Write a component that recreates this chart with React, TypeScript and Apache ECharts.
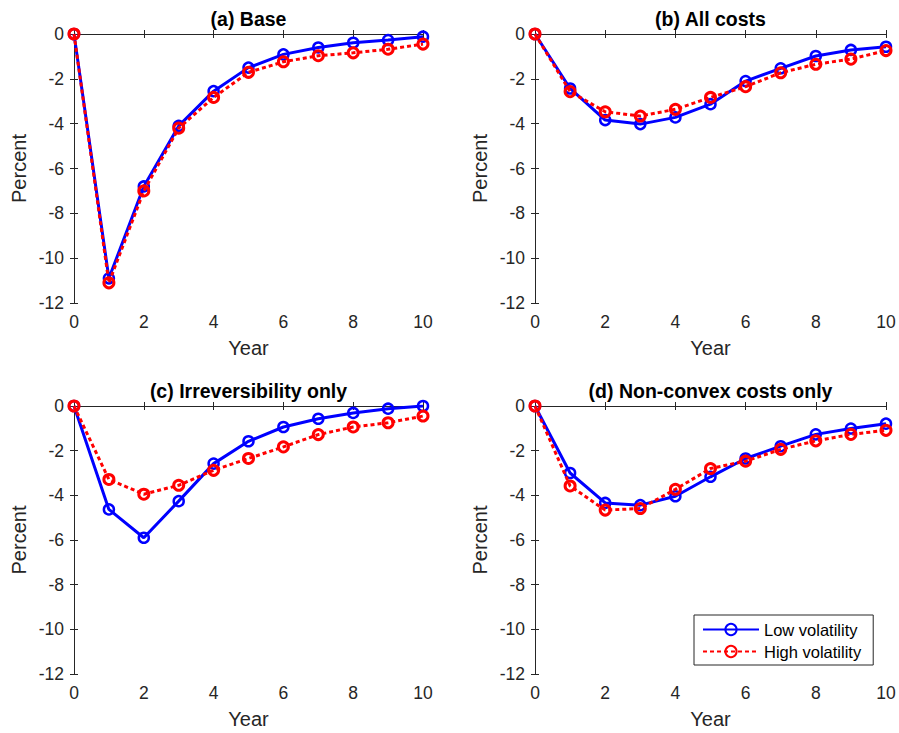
import React, { useEffect, useRef } from "react";
import * as echarts from "echarts";

// Investment response (percent) by year after the shock
const years = [0, 1, 2, 3, 4, 5, 6, 7, 8, 9, 10];

const baseLow = [0, -10.9, -6.8, -4.1, -2.55, -1.5, -0.91, -0.6, -0.39, -0.27, -0.12];
const baseHigh = [0, -11.1, -7.0, -4.2, -2.83, -1.71, -1.24, -0.97, -0.84, -0.68, -0.45];

const allLow = [0, -2.43, -3.84, -4.02, -3.72, -3.13, -2.1, -1.53, -0.98, -0.71, -0.57];
const allHigh = [0, -2.57, -3.47, -3.66, -3.36, -2.83, -2.35, -1.73, -1.35, -1.12, -0.74];

const irrevLow = [0, -4.63, -5.9, -4.26, -2.58, -1.58, -0.94, -0.57, -0.31, -0.12, 0];
const irrevHigh = [0, -3.29, -3.95, -3.55, -2.88, -2.35, -1.83, -1.28, -0.94, -0.75, -0.45];

const nonconvLow = [0, -3.0, -4.34, -4.44, -4.04, -3.17, -2.35, -1.8, -1.27, -1.01, -0.79];
const nonconvHigh = [0, -3.58, -4.66, -4.59, -3.73, -2.8, -2.47, -1.94, -1.56, -1.27, -1.09];

const panelTitles = [
  "(a) Base",
  "(b) All costs",
  "(c) Irreversibility only",
  "(d) Non-convex costs only",
];
const lowSeries = [baseLow, allLow, irrevLow, nonconvLow];
const highSeries = [baseHigh, allHigh, irrevHigh, nonconvHigh];

const seriesNames = ["Low volatility", "High volatility"];
const xLabel = "Year";
const yLabel = "Percent";

const grids = [
  { left: 74, top: 34, width: 349, height: 269 },
  { left: 535, top: 34, width: 351, height: 269 },
  { left: 74, top: 406, width: 349, height: 268 },
  { left: 535, top: 406, width: 351, height: 268 },
];

const FONT = "'Liberation Sans', Arial, Helvetica, sans-serif";
const AXIS_COLOR = "#262626";

export default function App() {
  const ref = useRef<HTMLDivElement>(null);

  useEffect(() => {
    if (!ref.current) return;
    const chart = echarts.init(ref.current, undefined, { renderer: "svg" });

    const xAxes: any[] = [];
    const yAxes: any[] = [];
    const series: any[] = [];
    const graphics: any[] = [];

    grids.forEach((g, i) => {
      const axisLine = { show: true, lineStyle: { color: AXIS_COLOR, width: 1 } };
      const tick = { show: true, inside: true, length: 4, lineStyle: { color: AXIS_COLOR } };
      // bottom and top x axes
      xAxes.push({
        type: "value",
        gridIndex: i,
        min: 0,
        max: 10,
        interval: 2,
        position: "bottom",
        axisLine,
        axisTick: tick,
        splitLine: { show: false },
        axisLabel: { color: AXIS_COLOR, fontSize: 17.5, fontFamily: FONT, margin: 10 },
        name: xLabel,
        nameLocation: "middle",
        nameGap: 35,
        nameTextStyle: { color: AXIS_COLOR, fontSize: 20, fontFamily: FONT },
      });
      xAxes.push({
        type: "value",
        gridIndex: i,
        min: 0,
        max: 10,
        interval: 2,
        position: "top",
        axisLine,
        axisTick: tick,
        splitLine: { show: false },
        axisLabel: { show: false },
      });
      // left and right y axes
      yAxes.push({
        type: "value",
        gridIndex: i,
        min: -12,
        max: 0,
        interval: 2,
        position: "left",
        axisLine,
        axisTick: tick,
        splitLine: { show: false },
        axisLabel: { color: AXIS_COLOR, fontSize: 17.5, fontFamily: FONT, margin: 10 },
        name: yLabel,
        nameLocation: "middle",
        nameGap: 45,
        nameTextStyle: { color: AXIS_COLOR, fontSize: 20, fontFamily: FONT },
      });
      yAxes.push({
        type: "value",
        gridIndex: i,
        min: -12,
        max: 0,
        interval: 2,
        position: "right",
        axisLine,
        axisTick: tick,
        splitLine: { show: false },
        axisLabel: { show: false },
      });

      series.push({
        name: seriesNames[0],
        type: "line",
        xAxisIndex: i * 2,
        yAxisIndex: i * 2,
        data: years.map((yr, k) => [yr, lowSeries[i][k]]),
        symbol: "circle",
        symbolSize: 10,
        lineStyle: { color: "#0000ff", width: 3 },
        itemStyle: { color: "rgba(0,0,0,0)", borderColor: "#0000ff", borderWidth: 2.5 },
        z: 2,
      });
      series.push({
        name: seriesNames[1],
        type: "line",
        xAxisIndex: i * 2,
        yAxisIndex: i * 2,
        data: years.map((yr, k) => [yr, highSeries[i][k]]),
        symbol: "circle",
        symbolSize: 10,
        lineStyle: { color: "#ff0000", width: 3, type: [4, 3] },
        itemStyle: { color: "rgba(0,0,0,0)", borderColor: "#ff0000", borderWidth: 3 },
        z: 3,
      });

      graphics.push({
        type: "text",
        x: g.left + g.width / 2,
        y: g.top - 15,
        style: {
          text: panelTitles[i],
          fill: "#000",
          font: `bold 19.5px ${FONT}`,
          align: "center",
          verticalAlign: "middle",
        },
      });
    });

    chart.setOption({
      animation: false,
      backgroundColor: "#ffffff",
      grid: grids.map((g) => ({ ...g, containLabel: false })),
      xAxis: xAxes,
      yAxis: yAxes,
      series,
      graphic: graphics,
      legend: {
        data: seriesNames,
        orient: "vertical",
        left: 694,
        top: 615,
        padding: [6, 12, 5, 8],
        itemGap: 5,
        itemWidth: 56,
        itemHeight: 14,
        borderColor: AXIS_COLOR,
        borderWidth: 1,
        backgroundColor: "#ffffff",
        textStyle: { color: "#000", fontSize: 16.5, fontFamily: FONT },
      },
    });

    return () => chart.dispose();
  }, []);

  return (
    <div
      ref={ref}
      style={{ position: "absolute", left: 0, top: 0, width: 899, height: 733 }}
    />
  );
}
